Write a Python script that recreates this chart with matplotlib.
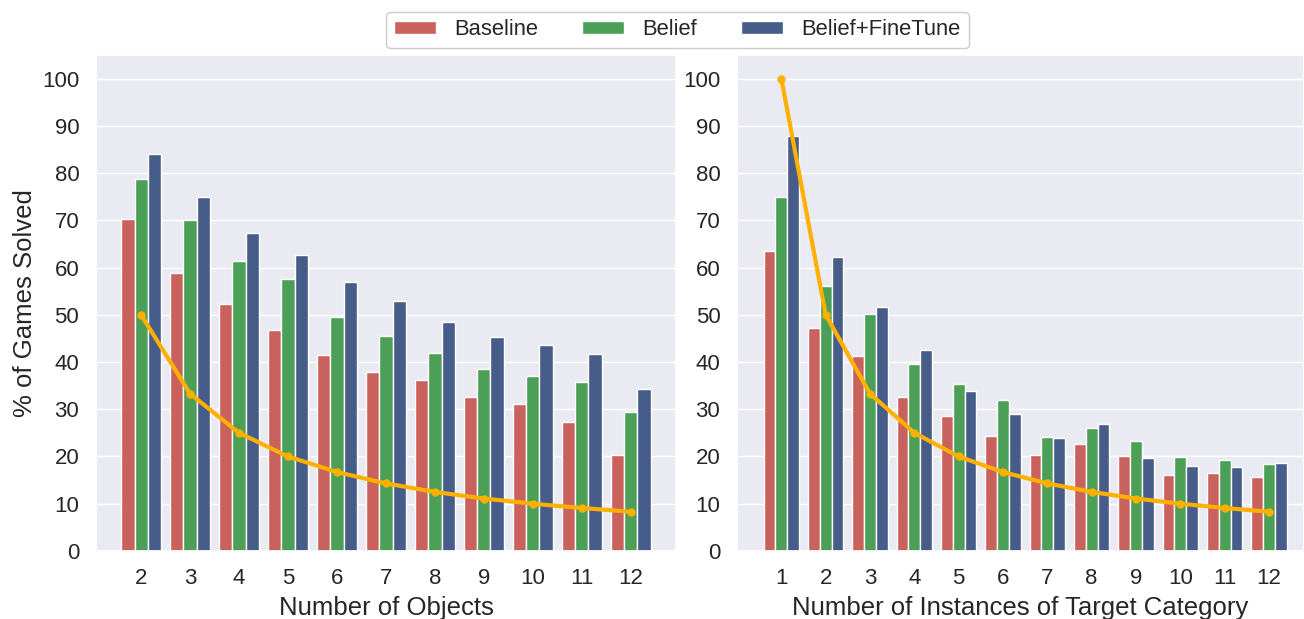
import matplotlib
matplotlib.use('Agg')
import matplotlib.pyplot as plt
import seaborn as sns
import numpy as np

sns.set_theme(style='darkgrid')
plt.rcParams['font.family'] = ['Liberation Sans', 'DejaVu Sans']

# ── data ──
series = ['Baseline', 'Belief', 'Belief+FineTune']
colors = ['#C9625C', '#4B9F56', '#475D89']
line_color = '#FFB000'

objects = [2, 3, 4, 5, 6, 7, 8, 9, 10, 11, 12]
obj_baseline = [70.2, 58.9, 52.3, 46.7, 41.4, 37.9, 36.1, 32.5, 31.2, 27.3, 20.4]
obj_belief = [78.8, 70.0, 61.3, 57.5, 49.6, 45.6, 41.9, 38.6, 37.1, 35.8, 29.4]
obj_finetune = [84.1, 74.9, 67.4, 62.6, 57.0, 53.0, 48.4, 45.4, 43.5, 41.7, 34.3]
obj_chance = [50.0, 33.3, 25.0, 20.0, 16.7, 14.3, 12.5, 11.1, 10.0, 9.1, 8.3]

instances = [1, 2, 3, 4, 5, 6, 7, 8, 9, 10, 11, 12]
inst_baseline = [63.6, 47.3, 41.3, 32.5, 28.5, 24.3, 20.3, 22.6, 20.0, 16.0, 16.6, 15.6]
inst_belief = [74.9, 56.1, 50.1, 39.6, 35.3, 31.9, 24.2, 26.0, 23.2, 19.9, 19.2, 18.5]
inst_finetune = [87.8, 62.2, 51.6, 42.5, 33.8, 28.9, 23.9, 26.8, 19.7, 17.9, 17.7, 18.7]
inst_chance = [100.0, 50.0, 33.3, 25.0, 20.0, 16.7, 14.3, 12.5, 11.1, 10.0, 9.1, 8.3]

fig = plt.figure(figsize=(13.04, 6.19), dpi=100)
ax1 = fig.add_axes([0.0736, 0.1099, 0.4448, 0.8013])
ax2 = fig.add_axes([0.5652, 0.1099, 0.4348, 0.8013])


def grouped(ax, cats, vals, chance, xlim, xlabel):
    pos = np.arange(len(cats))
    w = 0.8 / 3
    bars = []
    for i, (v, c) in enumerate(zip(vals, colors)):
        b = ax.bar(pos + (i - 1) * w, v, width=w, color=c,
                   edgecolor='white', linewidth=1.0, zorder=2)
        bars.append(b)
    ax.plot(pos, chance, color=line_color, lw=3, marker='o', ms=5, zorder=3)
    ax.set_xticks(pos)
    ax.set_xticklabels([str(c) for c in cats])
    ax.set_xlim(*xlim)
    ax.set_ylim(0, 105)
    ax.set_yticks(range(0, 101, 10))
    ax.grid(axis='x', visible=False)
    ax.tick_params(axis='both', labelsize=16, colors='#262626', length=0)
    ax.tick_params(axis='x', pad=12)
    ax.tick_params(axis='y', pad=12)
    ax.set_xlabel(xlabel, fontsize=18.5, color='#262626', labelpad=5)
    return bars


bars = grouped(ax1, objects, [obj_baseline, obj_belief, obj_finetune],
               obj_chance, (-0.92, 10.92), 'Number of Objects')
grouped(ax2, instances, [inst_baseline, inst_belief, inst_finetune],
        inst_chance, (-1.0, 11.79), 'Number of Instances of Target Category')
ax1.set_ylabel('% of Games Solved', fontsize=18.5, color='#262626', labelpad=4)

leg = fig.legend([b[0] for b in bars], series, loc='center',
                 bbox_to_anchor=(0.5196, 0.952), ncol=3, fontsize=15.8,
                 handlelength=1.9, handleheight=0.6, handletextpad=0.85,
                 columnspacing=2.0, frameon=True, fancybox=True,
                 borderpad=0.35)
leg.get_frame().set_facecolor('white')
leg.get_frame().set_edgecolor('#cccccc')
leg.get_frame().set_alpha(1)
for t in leg.get_texts():
    t.set_color('#262626')

fig.savefig('out.png', dpi=100, facecolor='white')
